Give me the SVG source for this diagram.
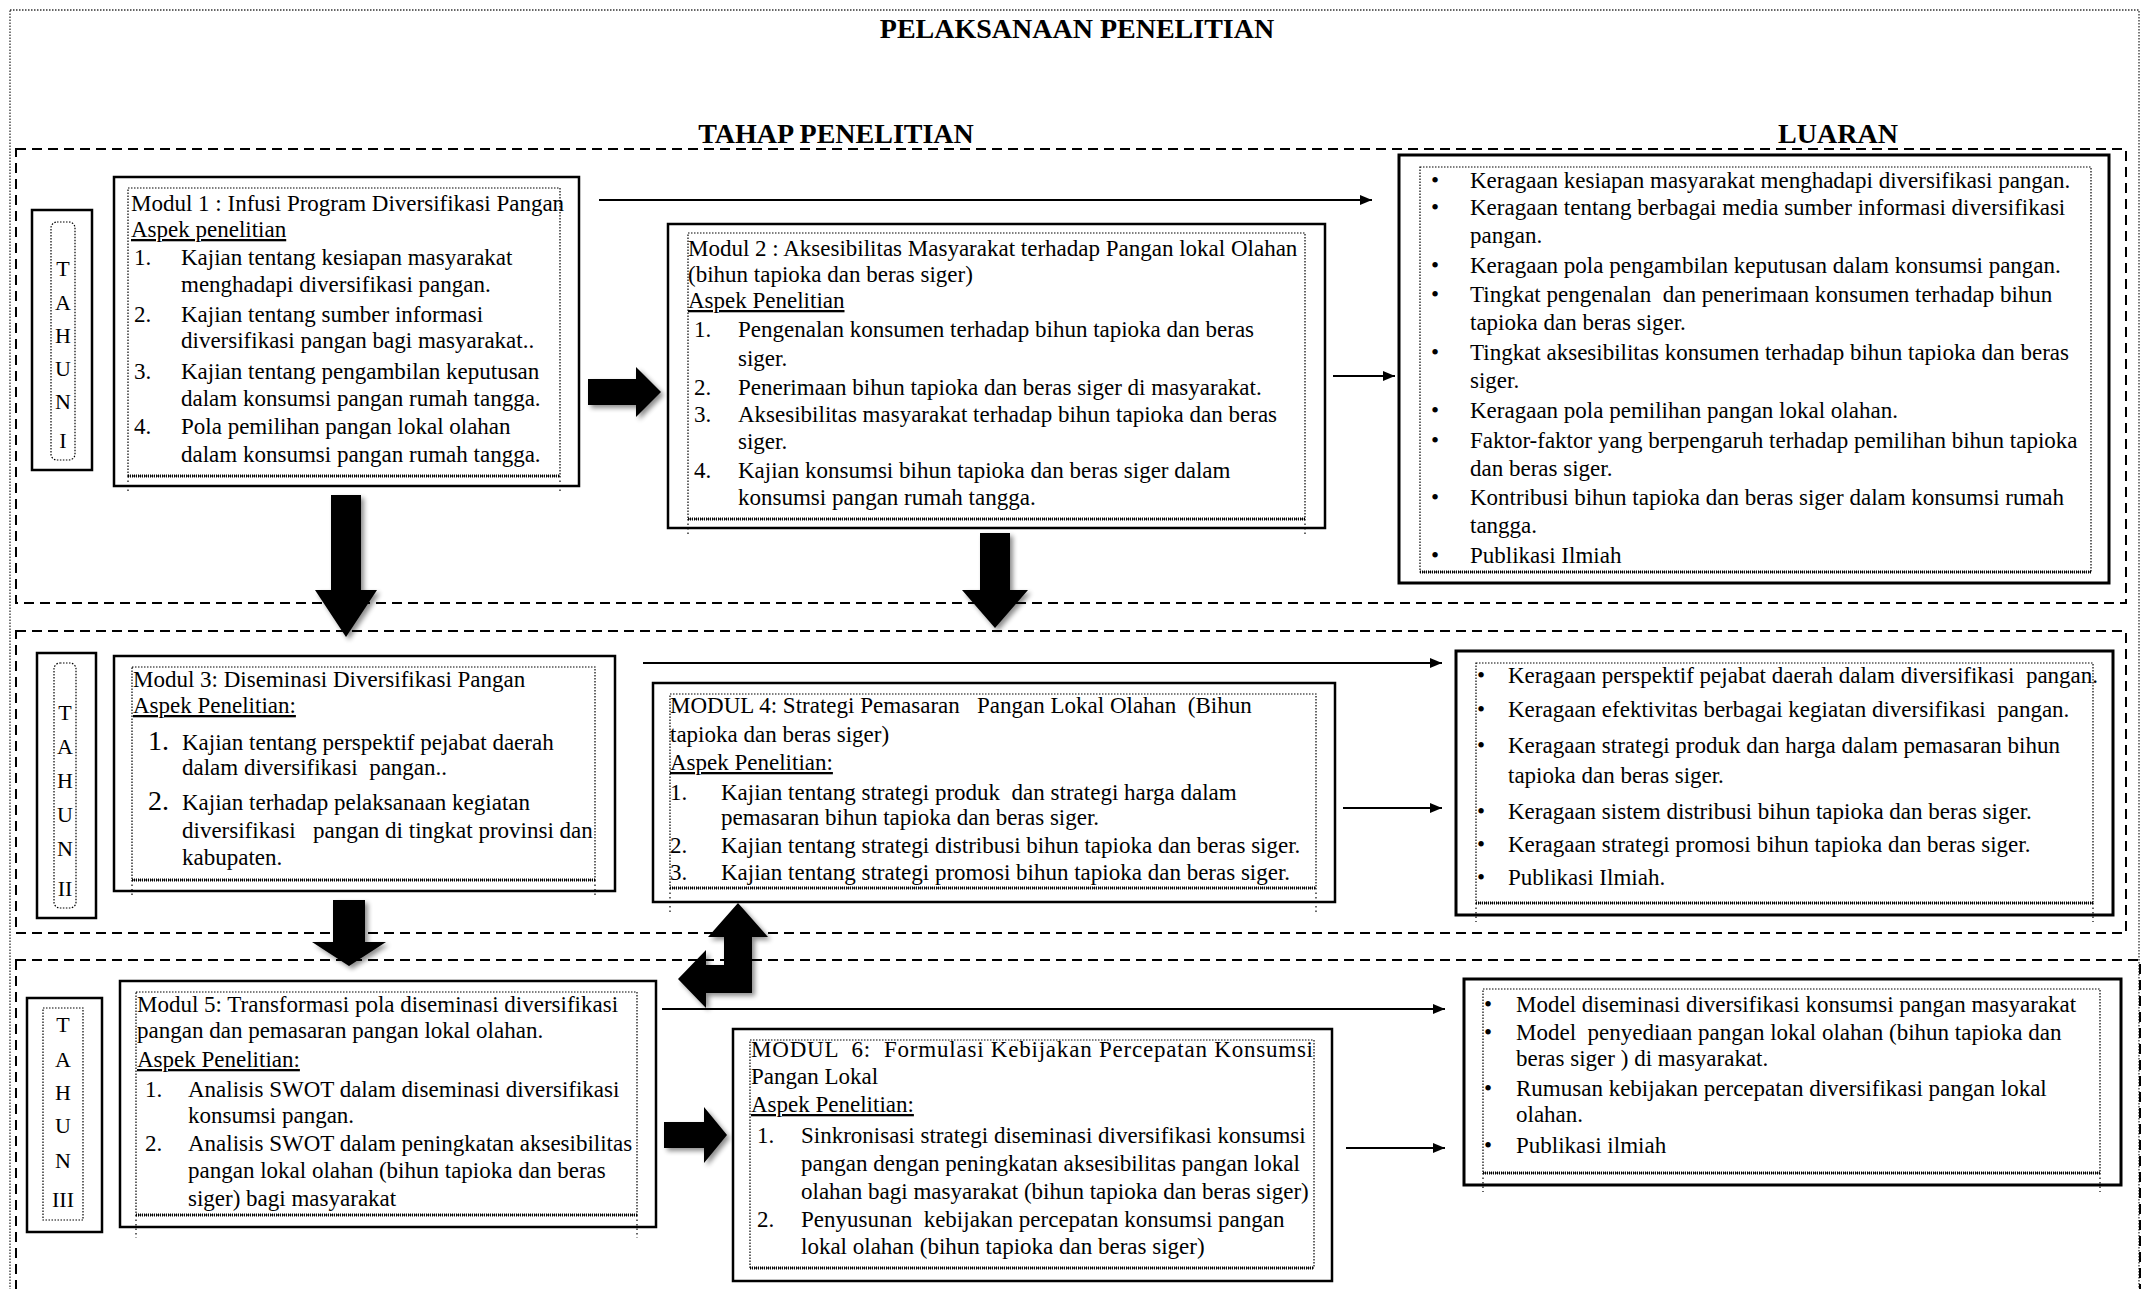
<svg xmlns="http://www.w3.org/2000/svg" width="2143" height="1289" viewBox="0 0 2143 1289">
<defs>
<style>
.t{font-family:"Liberation Serif","Times New Roman",serif;font-size:23px;fill:#000;white-space:pre}
.hd{font-family:"Liberation Serif","Times New Roman",serif;font-size:28px;font-weight:bold;fill:#000;text-anchor:middle}
.u{text-decoration:underline}
.big{font-size:28px}
.yl{font-family:"Liberation Serif","Times New Roman",serif;font-size:22px;fill:#000;text-anchor:middle}
.box{fill:#fff;stroke:#000;stroke-width:2.5}
.lbox{fill:#fff;stroke:#000;stroke-width:3}
.inner{fill:none;stroke:#000;stroke-width:1.2;stroke-dasharray:1.5 1.5}
.wave{fill:none;stroke:#000;stroke-width:3;stroke-dasharray:1 1}
.ext{fill:none;stroke:#000;stroke-width:1.2;stroke-dasharray:1.5 3}
.year{fill:none;stroke:#000;stroke-width:2;stroke-dasharray:10 6}
.outer{fill:none;stroke:#333;stroke-width:1.3;stroke-dasharray:1.5 1.5}
.conn{fill:none;stroke:#000;stroke-width:2;marker-end:url(#ah)}
.blk{fill:#000;filter:url(#sh)}
</style>
<marker id="ah" viewBox="0 0 12 10" refX="12" refY="5" markerWidth="12" markerHeight="10" markerUnits="userSpaceOnUse" orient="auto"><path d="M0,0 L12,5 L0,10 Z" fill="#000"/></marker>
<filter id="sh" x="-30%" y="-30%" width="160%" height="160%"><feGaussianBlur in="SourceAlpha" stdDeviation="2.5"/><feOffset dx="3" dy="3"/><feComponentTransfer><feFuncA type="linear" slope="0.45"/></feComponentTransfer><feMerge><feMergeNode/><feMergeNode in="SourceGraphic"/></feMerge></filter>
</defs>
<rect width="2143" height="1289" fill="#fff"/>

<g id="frame">
<rect class="outer" x="10" y="10" width="2129" height="1295"/>
<rect class="year" x="16" y="149" width="2110" height="454"/>
<rect class="year" x="16" y="631" width="2110" height="302"/>
<rect class="year" x="16" y="960" width="2124" height="345"/>
<text class="hd" x="1077" y="38">PELAKSANAAN PENELITIAN</text>
<text class="hd" x="836" y="143">TAHAP PENELITIAN</text>
<text class="hd" x="1838" y="143">LUARAN</text>
</g>

<g id="tahun1">
<rect class="box" x="32" y="210" width="60" height="260"/>
<rect class="inner" x="51" y="222" width="24" height="238" rx="6"/>
<text class="yl" x="63" y="276">T</text><text class="yl" x="63" y="310">A</text><text class="yl" x="63" y="343">H</text><text class="yl" x="63" y="376">U</text><text class="yl" x="63" y="409">N</text><text class="yl" x="63" y="448">I</text>
</g>
<g id="tahun2">
<rect class="box" x="37" y="653" width="59" height="265"/>
<rect class="inner" x="54" y="663" width="22" height="245" rx="6"/>
<text class="yl" x="65" y="720">T</text><text class="yl" x="65" y="754">A</text><text class="yl" x="65" y="788">H</text><text class="yl" x="65" y="822">U</text><text class="yl" x="65" y="856">N</text><text class="yl" x="65" y="896">II</text>
</g>
<g id="tahun3">
<rect class="box" x="27" y="998" width="75" height="234"/>
<rect class="inner" x="43" y="1008" width="40" height="212"/>
<text class="yl" x="63" y="1032">T</text><text class="yl" x="63" y="1067">A</text><text class="yl" x="63" y="1100">H</text><text class="yl" x="63" y="1133">U</text><text class="yl" x="63" y="1168">N</text><text class="yl" x="63" y="1207">III</text>
</g>

<g id="modul1">
<rect class="box" x="114" y="177" width="465" height="309"/>
<rect class="inner" x="128" y="188" width="432" height="288"/>
<path class="wave" d="M128,476 H560"/>
<path class="ext" d="M128,476 V494 M560,476 V494"/>
<text class="t" x="131" y="211">Modul 1 : Infusi Program Diversifikasi Pangan</text>
<text class="t u" x="131" y="237">Aspek penelitian</text>
<text class="t" x="134" y="265">1.</text><text class="t" x="181" y="265">Kajian tentang kesiapan masyarakat</text>
<text class="t" x="181" y="292">menghadapi diversifikasi pangan.</text>
<text class="t" x="134" y="322">2.</text><text class="t" x="181" y="322">Kajian tentang sumber informasi</text>
<text class="t" x="181" y="348">diversifikasi pangan bagi masyarakat..</text>
<text class="t" x="134" y="379">3.</text><text class="t" x="181" y="379">Kajian tentang pengambilan keputusan</text>
<text class="t" x="181" y="406">dalam konsumsi pangan rumah tangga.</text>
<text class="t" x="134" y="434">4.</text><text class="t" x="181" y="434">Pola pemilihan pangan lokal olahan</text>
<text class="t" x="181" y="462">dalam konsumsi pangan rumah tangga.</text>
</g>

<g id="modul2">
<rect class="box" x="668" y="224" width="657" height="304"/>
<rect class="inner" x="688" y="233" width="617" height="286"/>
<path class="wave" d="M688,519 H1305"/>
<path class="ext" d="M688,519 V537 M1305,519 V537"/>
<text class="t" x="688" y="256">Modul 2 : Aksesibilitas Masyarakat terhadap Pangan lokal Olahan</text>
<text class="t" x="688" y="282">(bihun tapioka dan beras siger)</text>
<text class="t u" x="688" y="308">Aspek Penelitian</text>
<text class="t" x="694" y="337">1.</text><text class="t" x="738" y="337">Pengenalan konsumen terhadap bihun tapioka dan beras</text>
<text class="t" x="738" y="366">siger.</text>
<text class="t" x="694" y="395">2.</text><text class="t" x="738" y="395">Penerimaan bihun tapioka dan beras siger di masyarakat.</text>
<text class="t" x="694" y="422">3.</text><text class="t" x="738" y="422">Aksesibilitas masyarakat terhadap bihun tapioka dan beras</text>
<text class="t" x="738" y="449">siger.</text>
<text class="t" x="694" y="478">4.</text><text class="t" x="738" y="478">Kajian konsumsi bihun tapioka dan beras siger dalam</text>
<text class="t" x="738" y="505">konsumsi pangan rumah tangga.</text>
</g>

<g id="luaran1">
<rect class="lbox" x="1399" y="155" width="710" height="428"/>
<rect class="inner" x="1420" y="167" width="671" height="405"/>
<path class="wave" d="M1420,572 H2091"/>
<text class="t" x="1431" y="188">•</text><text class="t" x="1470" y="188">Keragaan kesiapan masyarakat menghadapi diversifikasi pangan.</text>
<text class="t" x="1431" y="215">•</text><text class="t" x="1470" y="215">Keragaan tentang berbagai media sumber informasi diversifikasi</text>
<text class="t" x="1470" y="243">pangan.</text>
<text class="t" x="1431" y="273">•</text><text class="t" x="1470" y="273">Keragaan pola pengambilan keputusan dalam konsumsi pangan.</text>
<text class="t" x="1431" y="302">•</text><text class="t" x="1470" y="302">Tingkat pengenalan  dan penerimaan konsumen terhadap bihun</text>
<text class="t" x="1470" y="330">tapioka dan beras siger.</text>
<text class="t" x="1431" y="360">•</text><text class="t" x="1470" y="360">Tingkat aksesibilitas konsumen terhadap bihun tapioka dan beras</text>
<text class="t" x="1470" y="388">siger.</text>
<text class="t" x="1431" y="418">•</text><text class="t" x="1470" y="418">Keragaan pola pemilihan pangan lokal olahan.</text>
<text class="t" x="1431" y="448">•</text><text class="t" x="1470" y="448">Faktor-faktor yang berpengaruh terhadap pemilihan bihun tapioka</text>
<text class="t" x="1470" y="476">dan beras siger.</text>
<text class="t" x="1431" y="505">•</text><text class="t" x="1470" y="505">Kontribusi bihun tapioka dan beras siger dalam konsumsi rumah</text>
<text class="t" x="1470" y="533">tangga.</text>
<text class="t" x="1431" y="563">•</text><text class="t" x="1470" y="563">Publikasi Ilmiah</text>
</g>

<g id="modul3">
<rect class="box" x="114" y="656" width="501" height="235"/>
<rect class="inner" x="132" y="667" width="463" height="213"/>
<path class="wave" d="M132,880 H595"/>
<path class="ext" d="M132,880 V895 M595,880 V895"/>
<text class="t" x="133" y="687">Modul 3: Diseminasi Diversifikasi Pangan</text>
<text class="t u" x="133" y="713">Aspek Penelitian:</text>
<text class="t big" x="148" y="750">1.</text><text class="t" x="182" y="750">Kajian tentang perspektif pejabat daerah</text>
<text class="t" x="182" y="775">dalam diversifikasi  pangan..</text>
<text class="t big" x="148" y="810">2.</text><text class="t" x="182" y="810">Kajian terhadap pelaksanaan kegiatan</text>
<text class="t" x="182" y="838">diversifikasi   pangan di tingkat provinsi dan</text>
<text class="t" x="182" y="865">kabupaten.</text>
</g>

<g id="modul4">
<rect class="box" x="653" y="683" width="682" height="219"/>
<rect class="inner" x="670" y="694" width="646" height="194"/>
<path class="wave" d="M670,888 H1316"/>
<path class="ext" d="M670,888 V912 M1316,888 V912"/>
<text class="t" x="670" y="713">MODUL 4: Strategi Pemasaran   Pangan Lokal Olahan  (Bihun</text>
<text class="t" x="670" y="742">tapioka dan beras siger)</text>
<text class="t u" x="670" y="770">Aspek Penelitian:</text>
<text class="t" x="670" y="800">1.</text><text class="t" x="721" y="800">Kajian tentang strategi produk  dan strategi harga dalam</text>
<text class="t" x="721" y="825">pemasaran bihun tapioka dan beras siger.</text>
<text class="t" x="670" y="853">2.</text><text class="t" x="721" y="853">Kajian tentang strategi distribusi bihun tapioka dan beras siger.</text>
<text class="t" x="670" y="880">3.</text><text class="t" x="721" y="880">Kajian tentang strategi promosi bihun tapioka dan beras siger.</text>
</g>

<g id="luaran2">
<rect class="lbox" x="1456" y="651" width="657" height="264"/>
<rect class="inner" x="1476" y="663" width="617" height="240"/>
<path class="wave" d="M1476,903 H2093"/>
<path class="ext" d="M1476,903 V922 M2093,903 V922"/>
<text class="t" x="1477" y="683">•</text><text class="t" x="1508" y="683">Keragaan perspektif pejabat daerah dalam diversifikasi  pangan.</text>
<text class="t" x="1477" y="717">•</text><text class="t" x="1508" y="717">Keragaan efektivitas berbagai kegiatan diversifikasi  pangan.</text>
<text class="t" x="1477" y="753">•</text><text class="t" x="1508" y="753">Keragaan strategi produk dan harga dalam pemasaran bihun</text>
<text class="t" x="1508" y="783">tapioka dan beras siger.</text>
<text class="t" x="1477" y="819">•</text><text class="t" x="1508" y="819">Keragaan sistem distribusi bihun tapioka dan beras siger.</text>
<text class="t" x="1477" y="852">•</text><text class="t" x="1508" y="852">Keragaan strategi promosi bihun tapioka dan beras siger.</text>
<text class="t" x="1477" y="885">•</text><text class="t" x="1508" y="885">Publikasi Ilmiah.</text>
</g>

<g id="modul5">
<rect class="box" x="120" y="981" width="536" height="246"/>
<rect class="inner" x="136" y="992" width="501" height="223"/>
<path class="wave" d="M136,1215 H637"/>
<path class="ext" d="M136,1215 V1238 M637,1215 V1238"/>
<text class="t" x="137" y="1012">Modul 5: Transformasi pola diseminasi diversifikasi</text>
<text class="t" x="137" y="1038">pangan dan pemasaran pangan lokal olahan.</text>
<text class="t u" x="137" y="1067">Aspek Penelitian:</text>
<text class="t" x="145" y="1097">1.</text><text class="t" x="188" y="1097">Analisis SWOT dalam diseminasi diversifikasi</text>
<text class="t" x="188" y="1123">konsumsi pangan.</text>
<text class="t" x="145" y="1151">2.</text><text class="t" x="188" y="1151">Analisis SWOT dalam peningkatan aksesibilitas</text>
<text class="t" x="188" y="1178">pangan lokal olahan (bihun tapioka dan beras</text>
<text class="t" x="188" y="1206">siger) bagi masyarakat</text>
</g>

<g id="modul6">
<rect class="box" x="733" y="1029" width="599" height="252"/>
<rect class="inner" x="750" y="1040" width="564" height="228"/>
<path class="wave" d="M750,1268 H1314"/>
<text class="t" x="751" y="1057" textLength="562" lengthAdjust="spacing">MODUL  6:  Formulasi Kebijakan Percepatan Konsumsi</text>
<text class="t" x="751" y="1084">Pangan Lokal</text>
<text class="t u" x="751" y="1112">Aspek Penelitian:</text>
<text class="t" x="757" y="1143">1.</text><text class="t" x="801" y="1143">Sinkronisasi strategi diseminasi diversifikasi konsumsi</text>
<text class="t" x="801" y="1171">pangan dengan peningkatan aksesibilitas pangan lokal</text>
<text class="t" x="801" y="1199">olahan bagi masyarakat (bihun tapioka dan beras siger)</text>
<text class="t" x="757" y="1227">2.</text><text class="t" x="801" y="1227">Penyusunan  kebijakan percepatan konsumsi pangan</text>
<text class="t" x="801" y="1254">lokal olahan (bihun tapioka dan beras siger)</text>
</g>

<g id="luaran3">
<rect class="lbox" x="1464" y="979" width="657" height="206"/>
<rect class="inner" x="1483" y="989" width="617" height="184"/>
<path class="wave" d="M1483,1173 H2100"/>
<path class="ext" d="M1483,1173 V1192 M2100,1173 V1192"/>
<text class="t" x="1484" y="1012">•</text><text class="t" x="1516" y="1012">Model diseminasi diversifikasi konsumsi pangan masyarakat</text>
<text class="t" x="1484" y="1040">•</text><text class="t" x="1516" y="1040">Model  penyediaan pangan lokal olahan (bihun tapioka dan</text>
<text class="t" x="1516" y="1066">beras siger ) di masyarakat.</text>
<text class="t" x="1484" y="1096">•</text><text class="t" x="1516" y="1096">Rumusan kebijakan percepatan diversifikasi pangan lokal</text>
<text class="t" x="1516" y="1122">olahan.</text>
<text class="t" x="1484" y="1153">•</text><text class="t" x="1516" y="1153">Publikasi ilmiah</text>
</g>

<g id="connectors">
<path class="conn" d="M599,200 H1372"/>
<path class="conn" d="M1333,376 H1395"/>
<path class="conn" d="M643,663 H1442"/>
<path class="conn" d="M1343,808 H1442"/>
<path class="conn" d="M662,1009 H1445"/>
<path class="conn" d="M1346,1148 H1445"/>
<polygon class="blk" points="588,379 636,379 636,367 661,392 636,417 636,405 588,405"/>
<polygon class="blk" points="331,495 361,495 361,590 377,590 346,637 315,590 331,590"/>
<polygon class="blk" points="980,533 1010,533 1010,590 1028,590 995,628 962,590 980,590"/>
<polygon class="blk" points="333,900 365,900 365,942 386,942 349,966 312,942 333,942"/>
<polygon class="blk" points="664,1122 704,1122 704,1107 727,1135 704,1163 704,1148 664,1148"/>
<polygon class="blk" points="738,903 768,937 752,937 752,993 706,993 706,1008 678,979 706,950 706,965 724,965 724,937 708,937"/>
</g>
</svg>
